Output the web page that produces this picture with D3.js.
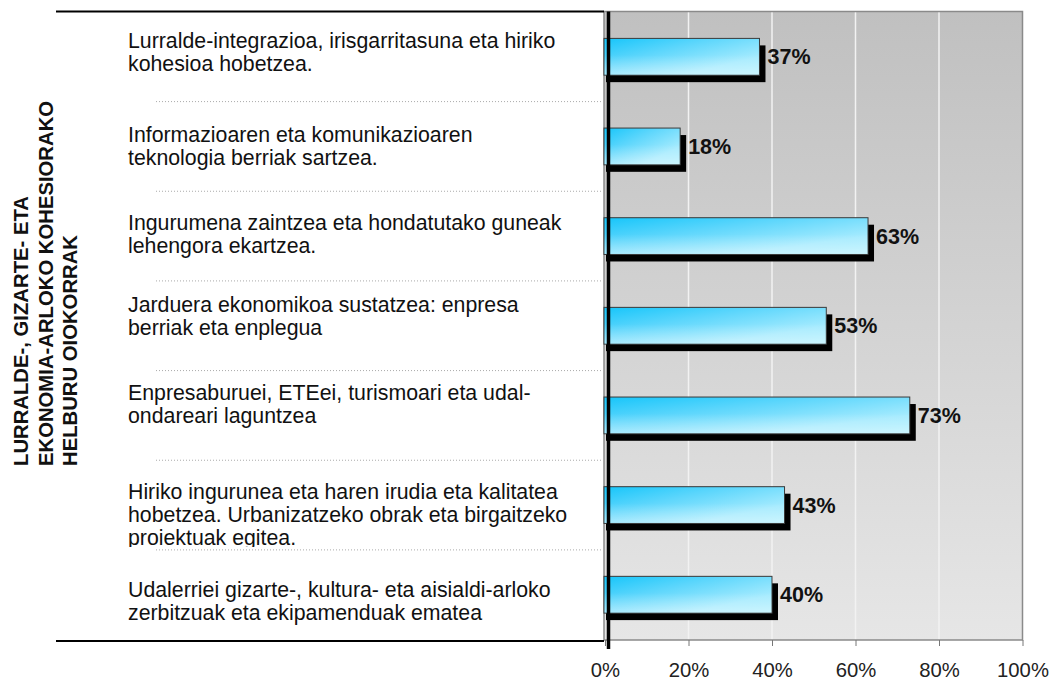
<!DOCTYPE html>
<html>
<head>
<meta charset="utf-8">
<script src="https://cdn.jsdelivr.net/npm/d3@7"></script>
<style>
  body { margin: 0; background: #fff; }
  text { font-family: Arial, "Liberation Sans", sans-serif; }
</style>
</head>
<body>
<script>
// helburuak (each one split into its printed lines)
var categories = [
  ["Lurralde-integrazioa, irisgarritasuna eta hiriko", "kohesioa hobetzea."],
  ["Informazioaren eta komunikazioaren", "teknologia berriak sartzea."],
  ["Ingurumena zaintzea eta hondatutako guneak", "lehengora ekartzea."],
  ["Jarduera ekonomikoa sustatzea: enpresa", "berriak eta enplegua"],
  ["Enpresaburuei, ETEei, turismoari eta udal-", "ondareari laguntzea"],
  ["Hiriko ingurunea eta haren irudia eta kalitatea", "hobetzea. Urbanizatzeko obrak eta birgaitzeko", "proiektuak egitea."],
  ["Udalerriei gizarte-, kultura- eta aisialdi-arloko", "zerbitzuak eta ekipamenduak ematea"]
];
var values = [0.37, 0.18, 0.63, 0.53, 0.73, 0.43, 0.40];
var ticks = [0, 0.2, 0.4, 0.6, 0.8, 1];
var titleLines = ["LURRALDE-, GIZARTE- ETA", "EKONOMIA-ARLOKO KOHESIORAKO", "HELBURU OIOKORRAK"];

// small vertical nudges of the text cells, as laid out in the original table
var labelNudge = [-5, 0, -2, -10, -11, 9, 6];

var width = 1052,
    height = 682;

var plotLeft = 604, plotRight = 1022.5, plotTop = 11.5, plotBottom = 640;

var svg = d3.select("body")
  .append("svg")
  .attr("width", width)
  .attr("height", height);

var defs = svg.append("defs");

var bg = defs.append("linearGradient")
    .attr("id", "bg")
    .attr("x1", 0).attr("y1", 0).attr("x2", 0).attr("y2", 1);
bg.append("stop").attr("offset", 0).attr("stop-color", "#c0c0c0");
bg.append("stop").attr("offset", 1).attr("stop-color", "#e6e6e6");

var barFill = defs.append("linearGradient")
    .attr("id", "barFill")
    .attr("x1", 0).attr("y1", 0).attr("x2", 1).attr("y2", 1);
barFill.append("stop").attr("offset", 0).attr("stop-color", "#16c5fa");
barFill.append("stop").attr("offset", 0.35).attr("stop-color", "#5cd6fc");
barFill.append("stop").attr("offset", 0.75).attr("stop-color", "#a6ebfe");
barFill.append("stop").attr("offset", 1).attr("stop-color", "#aeeffe");

var barShine = defs.append("linearGradient")
    .attr("id", "barShine")
    .attr("x1", 0).attr("y1", 0).attr("x2", 0).attr("y2", 1);
barShine.append("stop").attr("offset", 0.45).attr("stop-color", "#fff").attr("stop-opacity", 0);
barShine.append("stop").attr("offset", 1).attr("stop-color", "#fff").attr("stop-opacity", 0.35);

var x = d3.scaleLinear()
    .domain([0, 1])
    .range([605, plotRight]);

var y = d3.scaleBand()
    .domain(d3.range(categories.length))
    .range([plotTop, plotBottom])
    .paddingInner(0.59)
    .paddingOuter(0.3);

var step = y.step(),
    gap = step - y.bandwidth();

// plot area
svg.append("rect")
    .attr("x", plotLeft)
    .attr("y", plotTop)
    .attr("width", plotRight - plotLeft)
    .attr("height", plotBottom - plotTop)
    .attr("fill", "url(#bg)");

svg.append("g")
  .selectAll("line")
  .data(ticks.slice(1, -1))
  .enter().append("line")
    .attr("x1", function(d) { return x(d); })
    .attr("x2", function(d) { return x(d); })
    .attr("y1", plotTop)
    .attr("y2", plotBottom)
    .attr("stroke", "#f2f2f2")
    .attr("stroke-width", 1.5);

svg.append("rect")
    .attr("x", plotLeft)
    .attr("y", plotTop)
    .attr("width", plotRight - plotLeft)
    .attr("height", plotBottom - plotTop)
    .attr("fill", "none")
    .attr("stroke", "#8a8a8a")
    .attr("stroke-width", 1.5);

// table rules on the left
svg.append("line")
    .attr("x1", 56).attr("x2", plotLeft)
    .attr("y1", plotTop).attr("y2", plotTop)
    .attr("stroke", "#000").attr("stroke-width", 2);
svg.append("line")
    .attr("x1", 56).attr("x2", plotLeft)
    .attr("y1", plotBottom + 1).attr("y2", plotBottom + 1)
    .attr("stroke", "#000").attr("stroke-width", 2);

svg.append("g")
  .selectAll("line")
  .data(d3.range(1, categories.length))
  .enter().append("line")
    .attr("x1", 156)
    .attr("x2", plotLeft - 2)
    .attr("y1", function(i) { return y(i) - gap / 2; })
    .attr("y2", function(i) { return y(i) - gap / 2; })
    .attr("stroke", "#aaa")
    .attr("stroke-width", 1)
    .attr("stroke-dasharray", "1,2");

// category labels, clipped to their table cells
var cells = svg.append("g").selectAll("g")
  .data(categories)
  .enter().append("g");

cells.each(function(lines, i) {
  var top = y(i) - gap / 2,
      bottom = y(i) + y.bandwidth() + gap / 2 - 3;
  defs.append("clipPath")
      .attr("id", "cell" + i)
    .append("rect")
      .attr("x", 0).attr("y", top)
      .attr("width", plotLeft).attr("height", bottom - top);

  var mid = y(i) + y.bandwidth() / 2 + labelNudge[i],
      lineH = 23,
      capH = 15,
      first = mid - (capH + (lines.length - 1) * lineH) / 2 + capH;

  d3.select(this)
      .attr("clip-path", "url(#cell" + i + ")")
    .selectAll("text")
    .data(lines)
    .enter().append("text")
      .attr("x", 128)
      .attr("y", function(d, j) { return first + j * lineH; })
      .attr("font-size", 21.3)
      .attr("fill", "#111")
      .text(function(d) { return d; });
});

// bars
var bars = svg.append("g").selectAll("g")
  .data(values)
  .enter().append("g");

bars.append("rect")
    .attr("x", plotLeft + 2)
    .attr("y", function(d, i) { return y(i) + 7; })
    .attr("width", function(d) { return x(d) + 6 - plotLeft - 2; })
    .attr("height", y.bandwidth())
    .attr("fill", "#000");

bars.append("rect")
    .attr("x", plotLeft)
    .attr("y", function(d, i) { return y(i); })
    .attr("width", function(d) { return x(d) - plotLeft; })
    .attr("height", y.bandwidth())
    .attr("fill", "url(#barFill)")
    .attr("stroke", "#3a3a3a")
    .attr("stroke-width", 1);

bars.append("rect")
    .attr("x", plotLeft + 0.5)
    .attr("y", function(d, i) { return y(i) + 0.5; })
    .attr("width", function(d) { return x(d) - plotLeft - 1; })
    .attr("height", y.bandwidth() - 1)
    .attr("fill", "url(#barShine)");

bars.append("text")
    .attr("x", function(d) { return x(d) + 8; })
    .attr("y", function(d, i) { return y(i) + y.bandwidth() / 2 + 7.5; })
    .attr("font-size", 21.5)
    .attr("font-weight", "bold")
    .attr("fill", "#111")
    .text(function(d) { return d3.format(".0%")(d); });

// thick value axis
svg.append("line")
    .attr("x1", 608.5).attr("x2", 608.5)
    .attr("y1", plotTop).attr("y2", plotBottom + 9)
    .attr("stroke", "#000")
    .attr("stroke-width", 3.5);

// x axis
var xAxis = svg.append("g")
    .attr("transform", "translate(0," + plotBottom + ")")
    .call(d3.axisBottom(x)
      .tickValues(ticks)
      .tickSize(6)
      .tickPadding(17)
      .tickFormat(d3.format(".0%")));
xAxis.select(".domain").remove();
xAxis.selectAll(".tick line").attr("stroke", "#777");
xAxis.selectAll(".tick text")
    .attr("font-size", 20.3)
    .attr("font-family", "Arial, 'Liberation Sans', sans-serif")
    .attr("fill", "#222");

// rotated group title
svg.append("g")
    .attr("transform", "translate(28,466) rotate(-90)")
  .selectAll("text")
  .data(titleLines)
  .enter().append("text")
    .attr("x", 0)
    .attr("y", function(d, i) { return i * 24.5; })
    .attr("font-size", 20.3)
    .attr("font-weight", "bold")
    .attr("fill", "#111")
    .text(function(d) { return d; });
</script>
</body>
</html>
